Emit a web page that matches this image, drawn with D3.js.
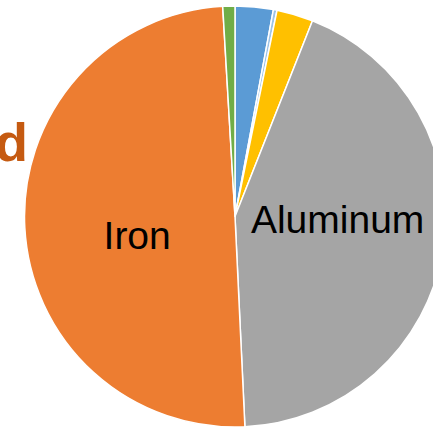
<!DOCTYPE html>
<html>
<head>
<meta charset="utf-8">
<script src="https://cdn.jsdelivr.net/npm/d3@7/dist/d3.min.js"></script>
<style>
  html, body { margin: 0; padding: 0; background: #fff; overflow: hidden; }
  svg { display: block; }
</style>
</head>
<body>
<svg id="chart" width="433" height="429"></svg>
<script>
// Share of metal output, percent, listed clockwise from 12 o'clock
const metals  = ["Copper", "Lead", "Zinc", "Aluminum", "Iron", "Nickel"];
const shares  = [2.92, 0.28, 2.8, 43.25, 49.82, 0.93];
const colours = ["#5B9BD5", "#9DC3E6", "#FFC000", "#A5A5A5", "#ED7D31", "#70AD47"];
const labelled = ["Aluminum", "Iron"];

const svg = d3.select("#chart");
const cx = 235, cy = 216.5, radius = 210.5;

const data = metals.map((m, i) => ({ metal: m, value: shares[i], colour: colours[i] }));

const pie = d3.pie().value(d => d.value).sort(null);
const arc = d3.arc().innerRadius(0).outerRadius(radius);
// labels sit roughly halfway out along each slice's mid-angle
const labelArc = d3.arc().innerRadius(100).outerRadius(100);

const g = svg.append("g").attr("transform", `translate(${cx},${cy})`);
const arcs = pie(data);

g.selectAll("path.slice")
  .data(arcs)
  .join("path")
  .attr("class", "slice")
  .attr("d", arc)
  .attr("fill", d => d.data.colour)
  .attr("stroke", "#fff")
  .attr("stroke-width", 1.5)
  .attr("stroke-linejoin", "round");

// small per-label offsets from the centroid, in pixels
const offset = { Aluminum: [4, 0], Iron: [2, 27] };

g.selectAll("text.label")
  .data(arcs.filter(d => labelled.includes(d.data.metal)))
  .join("text")
  .attr("class", "label")
  .attr("x", d => labelArc.centroid(d)[0] + offset[d.data.metal][0])
  .attr("y", d => labelArc.centroid(d)[1] + offset[d.data.metal][1])
  .attr("text-anchor", "middle")
  .attr("font-family", "'Liberation Sans', Arial, sans-serif")
  .attr("font-size", 39)
  .attr("fill", "#000")
  .text(d => d.data.metal);

// callout heading on the left, mostly running off the page
svg.append("text")
  .attr("x", 28)
  .attr("y", 161)
  .attr("text-anchor", "end")
  .attr("font-family", "'Liberation Sans', Arial, sans-serif")
  .attr("font-weight", "bold")
  .attr("font-size", 54)
  .attr("fill", "#C55A11")
  .text("Recycled");
</script>
</body>
</html>
